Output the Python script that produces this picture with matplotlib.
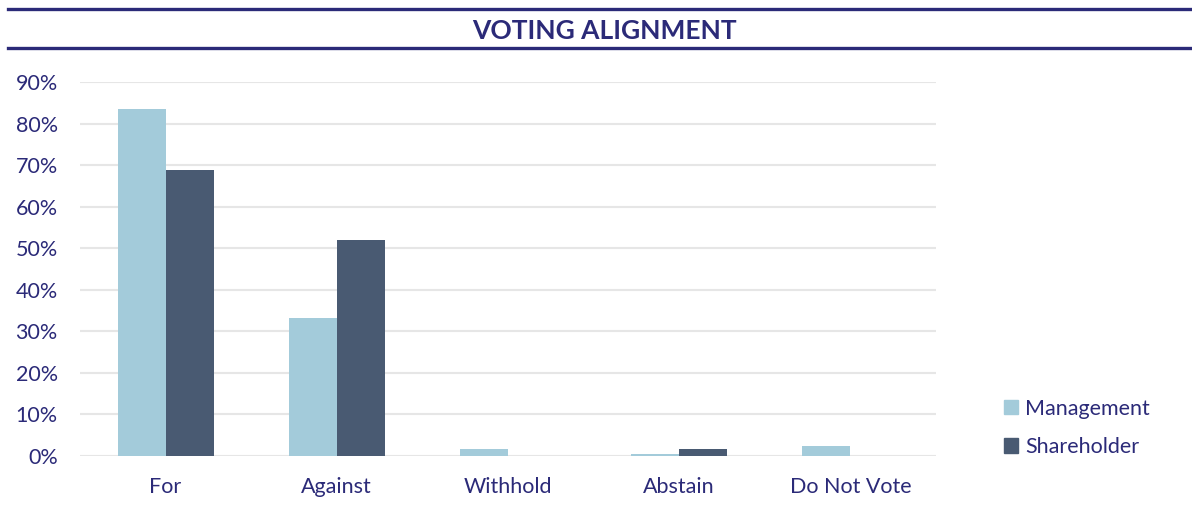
import matplotlib
matplotlib.use('Agg')
import matplotlib.pyplot as plt
import numpy as np
from matplotlib.lines import Line2D
from matplotlib.patches import Patch

categories = ['For', 'Against', 'Withhold', 'Abstain', 'Do Not Vote']
management = [0.835, 0.332, 0.017, 0.005, 0.024]
shareholder = [0.688, 0.520, 0.0, 0.017, 0.0]
yticks = [0, 0.1, 0.2, 0.3, 0.4, 0.5, 0.6, 0.7, 0.8, 0.9]

navy = '#2B2A78'
light = '#A3CBDA'
dark = '#495A72'

plt.rcParams['font.family'] = ['Lato', 'DejaVu Sans']

fig = plt.figure(figsize=(11.92, 5.14), dpi=100)
ax = fig.add_axes([80 / 1192, 1 - 456 / 514, 856 / 1192, (456 - 82) / 514])

x = np.arange(len(categories))
w = 0.28
ax.bar(x - w / 2, management, w, color=light, label='Management', zorder=3)
ax.bar(x + w / 2, shareholder, w, color=dark, label='Shareholder', zorder=3)

ax.set_xlim(-0.5, len(categories) - 0.5)
ax.set_ylim(0, 0.9)
ax.set_yticks(yticks)
ax.set_yticklabels([f'{int(round(t * 100))}%' for t in yticks])
ax.set_xticks(x)
ax.set_xticklabels(categories)
ax.tick_params(length=0, labelsize=15.5, labelcolor=navy)
ax.tick_params(axis='y', pad=16)
ax.tick_params(axis='x', pad=15)
ax.grid(axis='y', color='#E6E6E6', linewidth=1.5, zorder=0)
for s in ax.spines.values():
    s.set_visible(False)

# header band with rules above and below
fig.add_artist(Line2D([8 / 1192, 1], [1 - 9 / 514] * 2, color=navy, lw=2.4))
fig.add_artist(Line2D([8 / 1192, 1], [1 - 48 / 514] * 2, color=navy, lw=2.4))
fig.text(604 / 1192, 1 - 31 / 514, 'VOTING ALIGNMENT', ha='center', va='center',
         fontsize=19, fontweight='bold', color=navy)

handles = [Patch(color=light), Patch(color=dark)]
fig.legend(handles, ['Management', 'Shareholder'], loc='center left',
           bbox_to_anchor=(985 / 1192, 1 - 428 / 514), frameon=False,
           fontsize=15.5, labelcolor=navy, handlelength=0.65, handleheight=0.65,
           handletextpad=0.3, labelspacing=0.85)

fig.savefig('out.png', dpi=100, facecolor='white')
